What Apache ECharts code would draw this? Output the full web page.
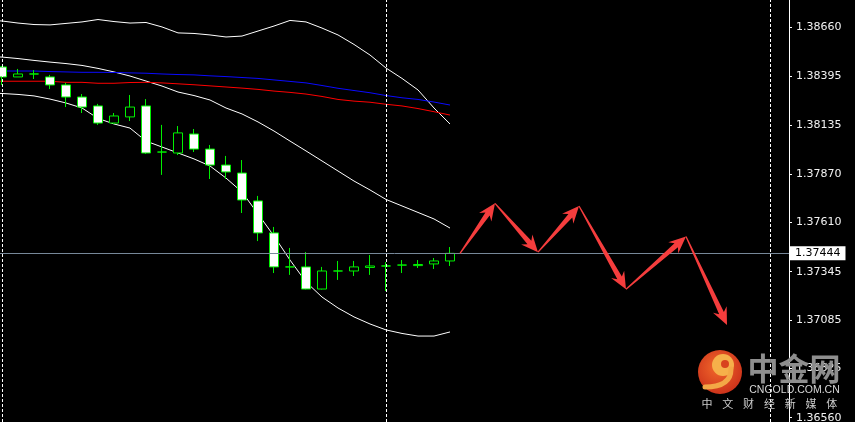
<!DOCTYPE html>
<html><head><meta charset="utf-8">
<script src="https://cdn.jsdelivr.net/npm/echarts@6/dist/echarts.min.js"></script>
<style>html,body{margin:0;padding:0;background:#000;}#c{width:855px;height:422px;}</style>
</head><body><div id="c"></div>
<script>
// ---- candle data (one per hourly bar, index 0..28) ----
const candleOpen  = [1.38447,1.38393,1.38409,1.38393,1.38350,1.38285,1.38237,1.38145,1.38178,1.38237,1.37989,1.37984,1.38086,1.38005,1.37919,1.37876,1.37726,1.37554,1.37371,1.37371,1.37252,1.37349,1.37349,1.37368,1.37376,1.37381,1.37378,1.37387,1.37403];
const candleClose = [1.38393,1.38409,1.38409,1.38350,1.38285,1.38231,1.38145,1.38183,1.38231,1.37984,1.37989,1.38092,1.38005,1.37919,1.37882,1.37731,1.37554,1.37371,1.37371,1.37252,1.37349,1.37349,1.37371,1.37376,1.37376,1.37381,1.37384,1.37403,1.37444];
const candleLow   = [1.38350,1.38393,1.38382,1.38328,1.38231,1.38199,1.38135,1.38140,1.38156,1.37979,1.37866,1.37973,1.37989,1.37844,1.37844,1.37661,1.37510,1.37338,1.37328,1.37250,1.37250,1.37301,1.37322,1.37328,1.37241,1.37338,1.37365,1.37360,1.37376];
const candleHigh  = [1.38452,1.38436,1.38430,1.38404,1.38361,1.38301,1.38248,1.38199,1.38296,1.38274,1.38135,1.38129,1.38113,1.38027,1.37968,1.37946,1.37753,1.37586,1.37473,1.37451,1.37371,1.37403,1.37403,1.37435,1.37397,1.37408,1.37408,1.37419,1.37478];

// ---- indicator lines (bar index -1..28) ----
const lineStartIndex = -1;
const bandUpper  = [1.38699,1.38694,1.38683,1.38675,1.38673,1.38681,1.38689,1.38702,1.38691,1.38683,1.38686,1.38662,1.38630,1.38627,1.38619,1.38608,1.38613,1.38640,1.38667,1.38697,1.38689,1.38656,1.38619,1.38568,1.38511,1.38441,1.38385,1.38323,1.38226,1.38140];
const bandMiddle = [1.38503,1.38500,1.38492,1.38482,1.38473,1.38465,1.38455,1.38439,1.38420,1.38398,1.38371,1.38344,1.38312,1.38293,1.38269,1.38226,1.38194,1.38151,1.38102,1.38048,1.37995,1.37941,1.37887,1.37833,1.37785,1.37734,1.37699,1.37664,1.37629,1.37580];
const bandLower  = [1.38307,1.38304,1.38299,1.38291,1.38274,1.38253,1.38226,1.38170,1.38140,1.38118,1.38048,1.38016,1.37984,1.37952,1.37914,1.37849,1.37774,1.37656,1.37537,1.37408,1.37290,1.37209,1.37150,1.37102,1.37064,1.37032,1.37013,1.36999,1.36999,1.37021];
const maBlue     = [1.38425,1.38425,1.38425,1.38425,1.38422,1.38420,1.38418,1.38418,1.38417,1.38415,1.38413,1.38409,1.38406,1.38404,1.38399,1.38395,1.38390,1.38385,1.38377,1.38369,1.38361,1.38347,1.38332,1.38320,1.38308,1.38293,1.38281,1.38272,1.38258,1.38242];
const maRed      = [1.38371,1.38370,1.38370,1.38370,1.38370,1.38364,1.38364,1.38359,1.38359,1.38363,1.38364,1.38361,1.38356,1.38351,1.38345,1.38339,1.38333,1.38326,1.38317,1.38310,1.38301,1.38288,1.38272,1.38263,1.38257,1.38246,1.38237,1.38223,1.38206,1.38188];

// ---- axis / annotations ----
const priceTicks = [1.38660,1.38395,1.38135,1.37870,1.37610,1.37345,1.37085,1.36825,1.36560];
const lastPrice = 1.37444;
const separatorIndex = [0, 24, 48];
const arrowIndex = [28.625, 30.8125, 33.5, 36.0625, 39.0, 42.75, 45.3125];
const arrowPrice = [1.37444, 1.37713, 1.37450, 1.37699, 1.37251, 1.37534, 1.37059];
const watermarkLine = ['中','文','财','经','新','媒','体'];

const GREEN = '#00f000';
const chart = echarts.init(document.getElementById('c'));
const toPairs = (arr, start) => arr.map((v, i) => [start + i, v]);
const candles = candleOpen.map((o, i) => [i, o, candleClose[i], candleLow[i], candleHigh[i]]);
const arrowSegs = arrowIndex.slice(0, -1).map((x, i) => [x, arrowPrice[i], arrowIndex[i + 1], arrowPrice[i + 1]]);

function lineSeries(data, color, z) {
  return {type:'line', data: toPairs(data, lineStartIndex), symbol:'none', showSymbol:false, silent:true,
    lineStyle:{color, width:1}, z, animation:false, clip:true};
}

const markData = [{yAxis: lastPrice, lineStyle:{color:'#778899', width:1, type:'solid'},
  label:{show:true, position:'end', distance:1, formatter: p => Number(p.value).toFixed(5),
    backgroundColor:'#ffffff', color:'#000', fontSize:11, fontFamily:'DejaVu Sans', padding:[1,5,1,5], lineHeight:12}}]
  .concat(separatorIndex.map(x => ({xAxis:x, lineStyle:{color:'#ffffff', width:1, type:[3,2]}, label:{show:false}})));

const option = {
  backgroundColor:'#000',
  animation:false,
  grid:{left:0, right:66, top:0, bottom:0, containLabel:false, outerBoundsMode:'none'},
  xAxis:{type:'value', min:-0.125, max:49.1875, show:false},
  yAxis:{type:'value', position:'right', min:1.365366, max:1.38807,
    axisLine:{show:true, onZero:false, lineStyle:{color:'#ffffff', width:1}},
    axisTick:{show:true, length:3, lineStyle:{color:'#ffffff'}, customValues: priceTicks},
    axisLabel:{show:true, color:'#f2f2f2', fontSize:11, fontFamily:'DejaVu Sans', margin:7,
      customValues: priceTicks, formatter: v => v.toFixed(5)},
    splitLine:{show:false}},
  series:[
    lineSeries(bandUpper, '#ffffff', 2),
    lineSeries(bandMiddle, '#ffffff', 2),
    lineSeries(bandLower, '#ffffff', 2),
    lineSeries(maBlue, '#0a0aff', 2),
    lineSeries(maRed, '#ff0000', 2),
    {type:'candlestick', data:candles, barWidth:9, z:3, silent:true,
      itemStyle:{color:'#000000', color0:'#ffffff', borderColor:GREEN, borderColor0:GREEN, borderColorDoji:GREEN, borderWidth:1},
      markLine:{symbol:'none', silent:true, animation:false, precision:5, data:markData}},
    {type:'custom', z:5, silent:true, data:arrowSegs, encode:{x:[0,2], y:[1,3]},
      renderItem:function(params, api){
        const a = api.coord([api.value(0), api.value(1)]);
        const b = api.coord([api.value(2), api.value(3)]);
        const dx = b[0]-a[0], dy = b[1]-a[1], len = Math.hypot(dx, dy);
        const ux = dx/len, uy = dy/len, px = -uy, py = ux;
        const headLen = 17, headW = 7.5, shaftW = 2.6, tailW = 0.6, notch = 4;
        const bx = b[0]-ux*headLen, by = b[1]-uy*headLen;
        const jx = b[0]-ux*(headLen-notch), jy = b[1]-uy*(headLen-notch);
        const pts = [
          [a[0]+px*tailW, a[1]+py*tailW],
          [jx+px*shaftW, jy+py*shaftW],
          [bx+px*headW, by+py*headW],
          [b[0], b[1]],
          [bx-px*headW, by-py*headW],
          [jx-px*shaftW, jy-py*shaftW],
          [a[0]-px*tailW, a[1]-py*tailW]
        ];
        return {type:'polygon', shape:{points:pts}, style:{fill:'#f53d3d'}};
      }}
  ],
  graphic:[
    {type:'circle', z:100, shape:{cx:720, cy:372, r:22},
      style:{fill:new echarts.graphic.RadialGradient(0.45,0.4,0.75,[{offset:0,color:'#f2692b'},{offset:1,color:'#c42617'}])}},
    {type:'circle', z:101, shape:{cx:723, cy:365, r:11}, style:{fill:'#f6b04a'}},
    {type:'bezierCurve', z:101, shape:{x1:731, y1:369, x2:705, y2:387, cpx1:731, cpy1:387},
      style:{stroke:'#f3a846', lineWidth:5, fill:null, lineCap:'round'}},
    {type:'circle', z:102, shape:{cx:725, cy:364, r:4}, style:{fill:'#d8421e'}},
    {type:'text', z:103, x:794, y:368, style:{text:'中金网', fill:'#8e8e8e', font:'bold 31px "Noto Sans CJK SC"', align:'center', verticalAlign:'middle'}},
    {type:'text', z:103, x:794.5, y:390.5, style:{text:'CNGOLD.COM.CN', fill:'#d6d6d6', font:'10.5px "Liberation Sans"', align:'center', verticalAlign:'middle'}}
  ].concat(watermarkLine.map((ch, i) => ({type:'text', z:103, x:707 + 20.8*i, y:403.5,
      style:{text:ch, fill:'#cccccc', font:'11px "Noto Sans CJK SC"', align:'center', verticalAlign:'middle'}})))
};
chart.setOption(option);
</script></body></html>
